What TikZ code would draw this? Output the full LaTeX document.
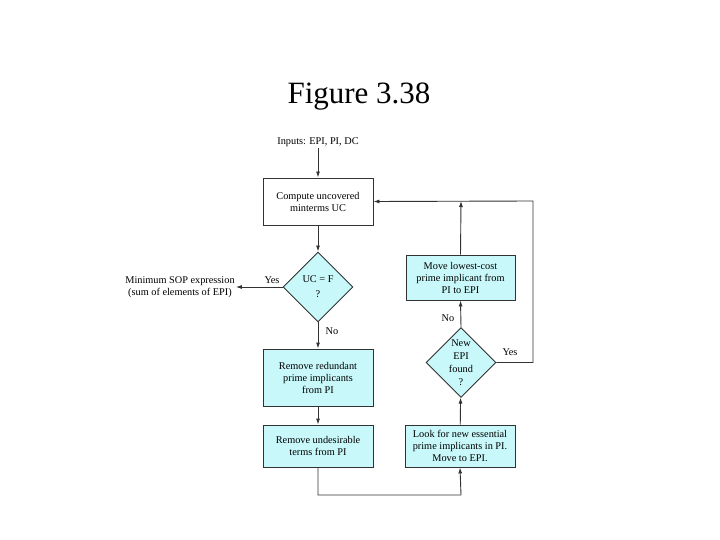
\documentclass[tikz,border=0pt]{standalone}
\usepackage{fontspec}
\setmainfont{Liberation Serif}
\usetikzlibrary{shapes.geometric,arrows.meta}
\definecolor{boxfill}{RGB}{200,248,250}
\definecolor{linegray}{RGB}{50,50,50}
\begin{document}
\begin{tikzpicture}[x=1pt,y=-1pt,
  every node/.style={font=\fontsize{10.3}{12}\selectfont, align=center, inner sep=1pt},
  box/.style={draw=linegray, line width=0.9pt, fill=boxfill, minimum width=110pt},
  dia/.style={diamond, draw=linegray, line width=0.9pt, fill=boxfill, minimum width=70pt, minimum height=70pt, inner sep=0pt},
  arr/.style={draw=linegray, line width=0.9pt, -{Latex[length=6pt,width=4pt]}},
  lab/.style={font=\fontsize{10.3}{12}\selectfont}]
\useasboundingbox (0,0) rectangle (720,540);
\node[font=\fontsize{31}{36}\selectfont] (title) at (359,97) {Figure 3.38};
\node (in) at (318,142) {Inputs: EPI, PI, DC};
\node[box, fill=white, minimum height=47pt] (b1) at (318,201.5) {Compute uncovered\\minterms UC};
\node[dia] (d1) at (318,287) {UC = F\\[3pt]?};
\node (out) at (180,287) {Minimum SOP expression\\(sum of elements of EPI)};
\node[box, minimum height=57pt] (b3) at (318,377.5) {Remove redundant\\prime implicants\\from PI};
\node[box, minimum height=42pt] (b4) at (318,446) {Remove undesirable\\terms from PI};
\node[box, minimum height=42pt] (b5) at (460,446) {Look for new essential\\prime implicants in PI.\\Move to EPI.};
\node[dia, font=\fontsize{10.3}{12.8}\selectfont] (d2) at (461,362.5) {New\\EPI\\found\\?};
\node[box, minimum width=109pt, minimum height=45pt] (b6) at (460.5,277.5) {Move lowest-cost\\prime implicant from\\PI to EPI};
\coordinate (c1) at (318,495);
\coordinate (c2) at (461,495);
\coordinate (c3) at (533,362.5);
\coordinate (c4) at (533,201);
\coordinate (c5) at (461,201);
\draw[arr] (in) -- (b1);
\draw[arr] (b1) -- (d1);
\draw[arr] (d1.west) -- (out.east);
\node[lab] (yes1) at (272,280) {Yes};
\draw[arr] (d1.south) -- (b3.north);
\node[lab] (no1) at (332,331) {No};
\draw[arr] (b3) -- (b4);
\draw[arr] (b4.south) -- (c1) -- (c2) -- (b5.south);
\draw[arr] (b5) -- (d2);
\draw[arr] (d2.north) -- (b6.south);
\node[lab] (no2) at (448,318) {No};
\draw[arr] (d2.east) -- (c3) -- (c4) -- (b1.east);
\node[lab] (yes2) at (510,352) {Yes};
\draw[arr] (b6.north) -- (c5);
\end{tikzpicture}
\end{document}
